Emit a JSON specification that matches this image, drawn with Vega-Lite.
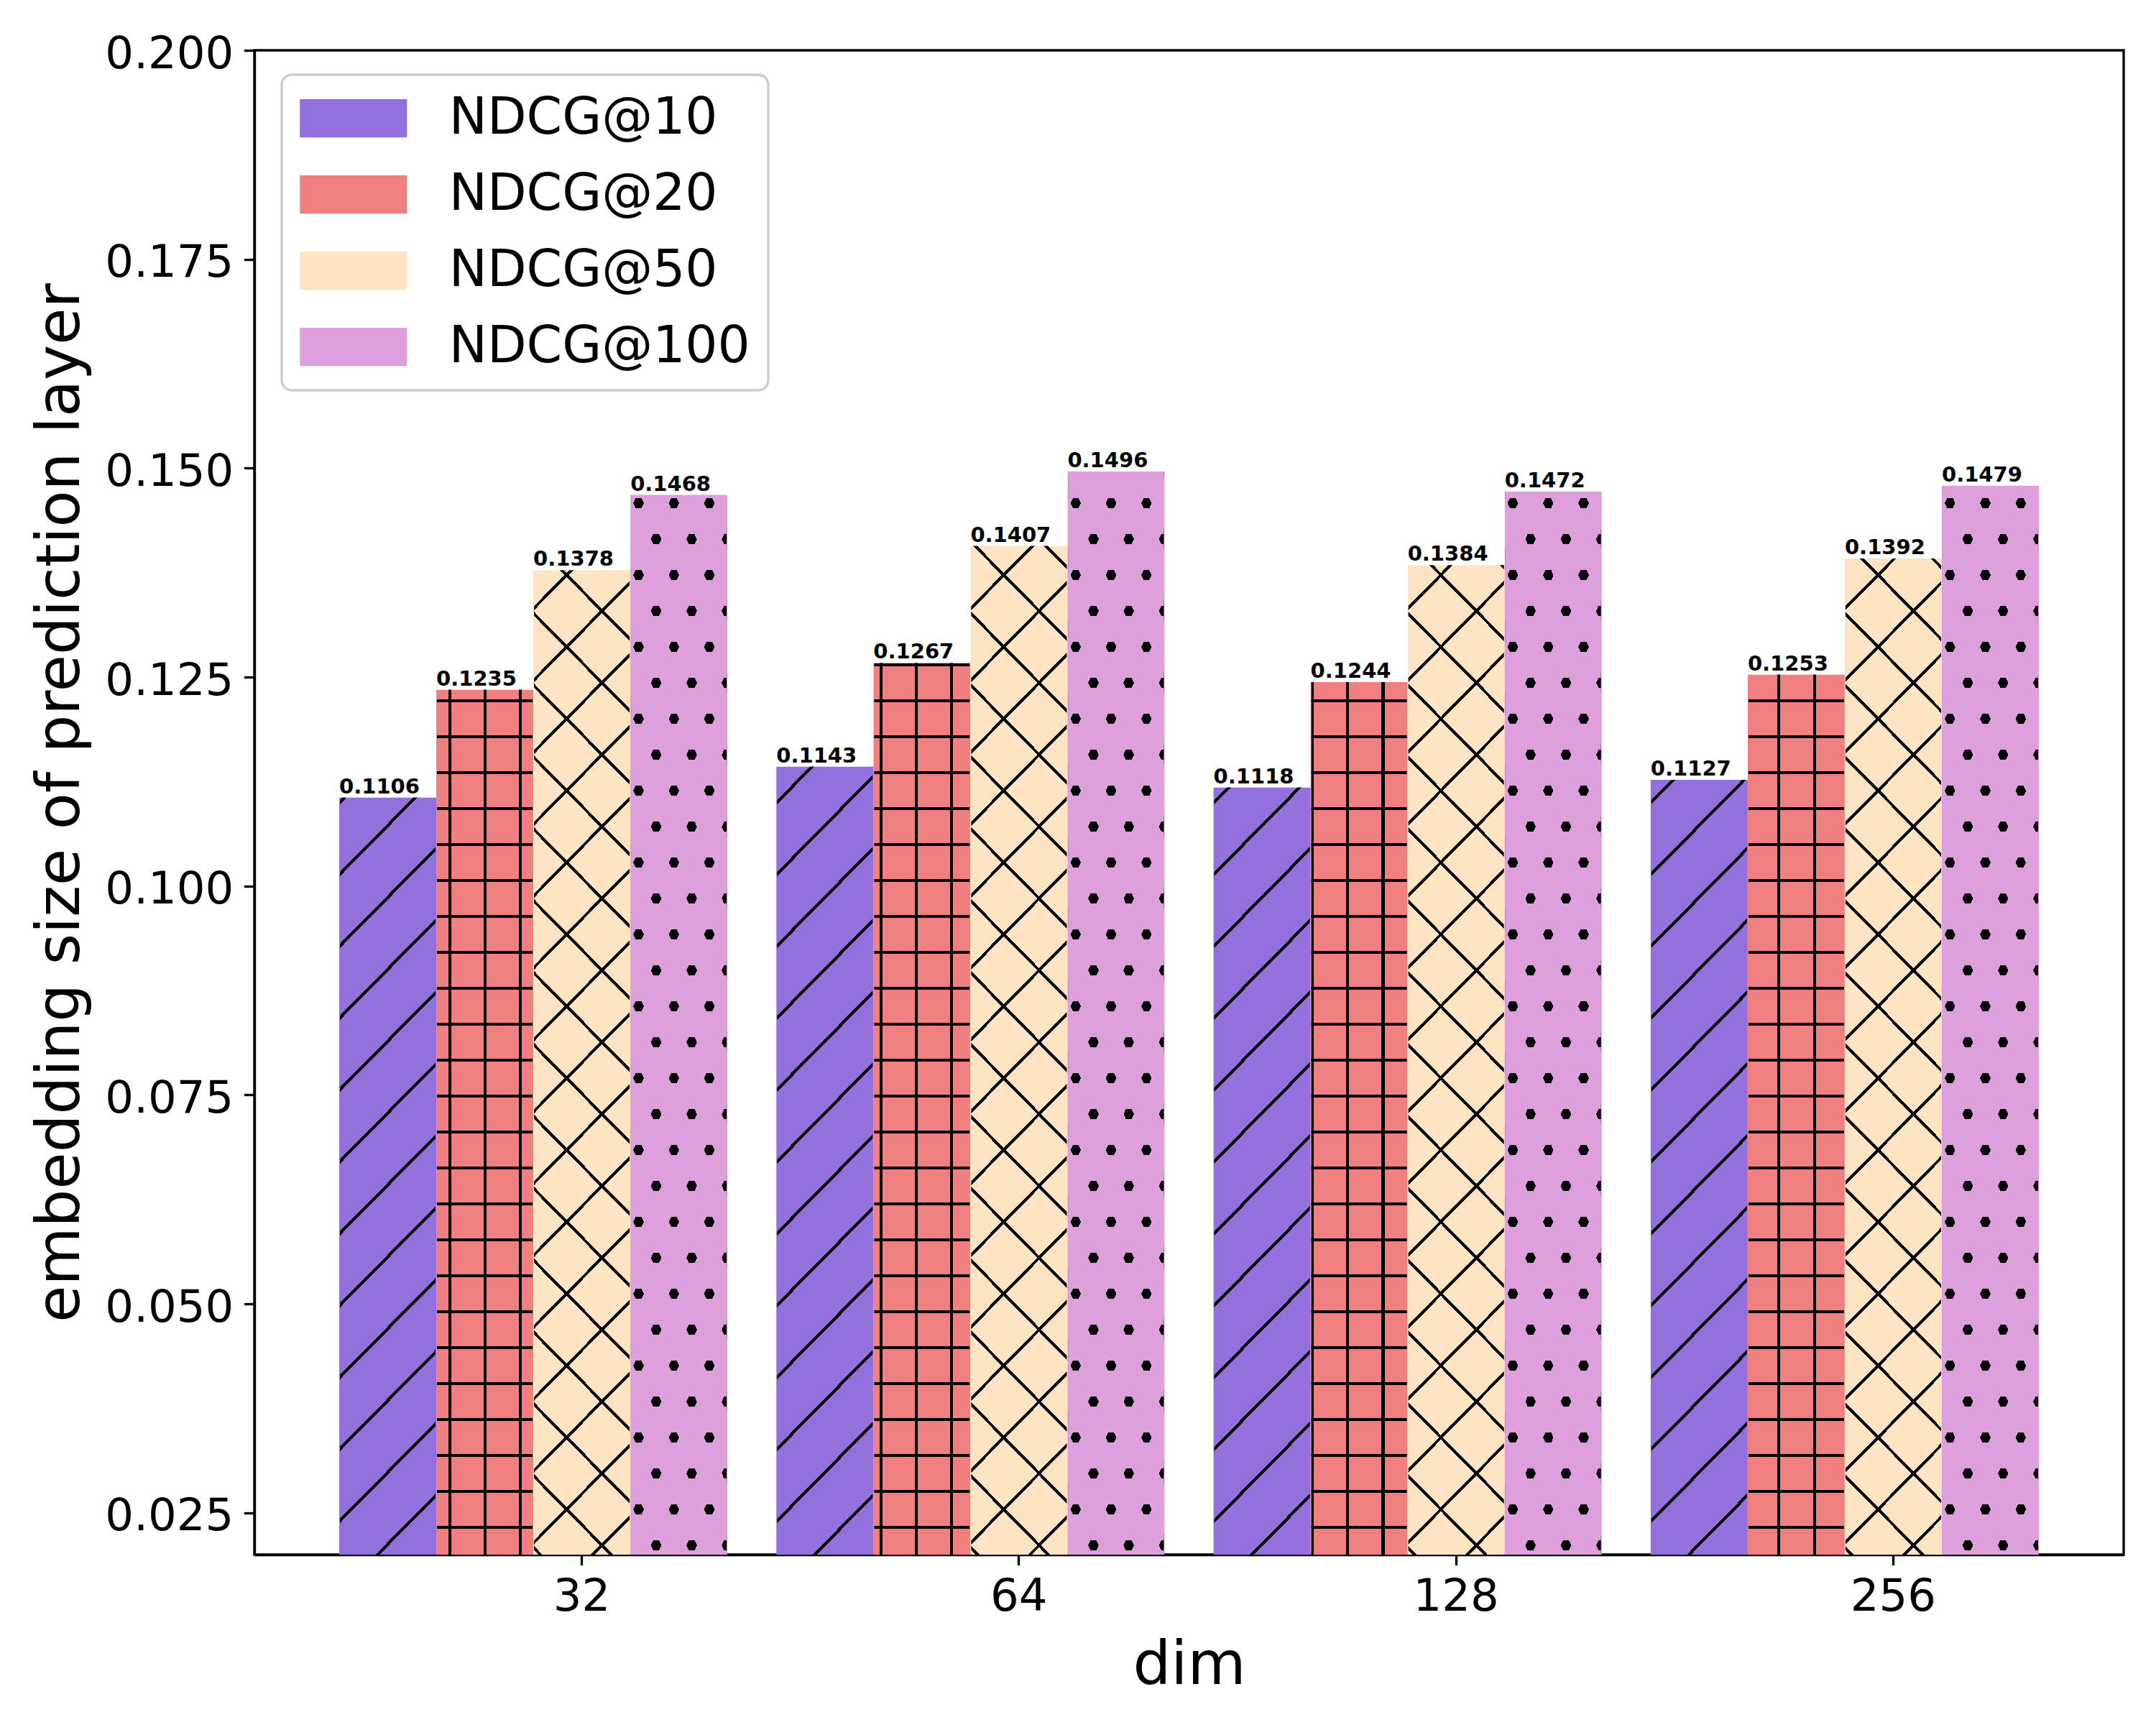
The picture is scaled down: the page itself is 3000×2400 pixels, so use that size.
{
"$schema":"https://vega.github.io/schema/vega-lite/v6.json",
"width":2601,"height":2093,
"autosize":{"type":"none"},
"padding":{"left":354,"top":70,"right":45,"bottom":237},
"background":"white",
"config":{
"font":"DejaVu Sans",
"view":{"stroke":"black","strokeWidth":3.33},
"legend":{"strokeWidth":3.33},
"axis":{"labelFont":"DejaVu Sans","labelFontSize":62.5,"labelColor":"black","titleFont":"DejaVu Sans","titleFontSize":83.3,"titleFontWeight":"normal","titleColor":"black","tickColor":"black","tickWidth":3.33,"tickSize":14.6,"domainColor":"black","domainWidth":3.33,"grid":false,"zindex":1}
},
"data":{"values":[
{"dim":"32","series":"NDCG@10","value":0.1106},{"dim":"32","series":"NDCG@20","value":0.1235},{"dim":"32","series":"NDCG@50","value":0.1378},{"dim":"32","series":"NDCG@100","value":0.1468},
{"dim":"64","series":"NDCG@10","value":0.1143},{"dim":"64","series":"NDCG@20","value":0.1267},{"dim":"64","series":"NDCG@50","value":0.1407},{"dim":"64","series":"NDCG@100","value":0.1496},
{"dim":"128","series":"NDCG@10","value":0.1118},{"dim":"128","series":"NDCG@20","value":0.1244},{"dim":"128","series":"NDCG@50","value":0.1384},{"dim":"128","series":"NDCG@100","value":0.1472},
{"dim":"256","series":"NDCG@10","value":0.1127},{"dim":"256","series":"NDCG@20","value":0.1253},{"dim":"256","series":"NDCG@50","value":0.1392},{"dim":"256","series":"NDCG@100","value":0.1479}
]},
"encoding":{
"x":{"field":"dim","type":"nominal","scale":{"type":"band","domain":["32","64","128","256"],"paddingInner":0.112,"paddingOuter":0.194},"axis":{"title":"dim","labelAngle":0,"bandPosition":0.625,"labelOffset":67.5,"labelPadding":13.4,"titleY":179,"titleBaseline":"alphabetic"}},
"xOffset":{"field":"series","type":"nominal","scale":{"domain":["NDCG@10","NDCG@20","NDCG@50","NDCG@100"],"paddingInner":0,"paddingOuter":0}}
},
"layer":[
{"mark":{"type":"bar"},
"encoding":{
"y":{"field":"value","type":"quantitative","scale":{"domain":[0.02,0.2],"zero":false,"nice":false},"axis":{"title":"embedding size of prediction layer","values":[0.025,0.05,0.075,0.1,0.125,0.15,0.175,0.2],"format":".3f","labelPadding":14.6,"labelOffset":5,"titleX":-245,"titleBaseline":"alphabetic"}},
"y2":{"datum":0.02},
"fill":{"field":"series","type":"nominal","scale":{"domain":["NDCG@10","NDCG@20","NDCG@50","NDCG@100"],"range":["#9370db","#f08080","#ffe4c4","#dda0dd"]},
"legend":{"title":null,"orient":"none","legendX":38,"legendY":34,"padding":25,"strokeColor":"#cccccc","cornerRadius":14,"fillColor":"white","labelFont":"DejaVu Sans","labelFontSize":71,"labelColor":"black","labelLimit":1000,"symbolType":"M-2.1,-0.75H2.1V0.75H-2.1Z","symbolSize":5041,"symbolOffset":39.3,"labelOffset":97.5,"rowPadding":34,"symbolStrokeWidth":0,"symbolOpacity":1}}
}},
{"transform":[{"filter":"datum.series==='NDCG@10'"}],
"mark":{"type":"bar","width":133,"fill":{"gradient":"linear","x1":0,"y1":0,"x2":0.09683,"y2":1.08091,"stops":[
{"offset":0.0347,"color":"#0000"},{"offset":0.0347,"color":"#000"},{"offset":0.0384,"color":"#000"},{"offset":0.0384,"color":"#0000"},
{"offset":0.0956,"color":"#0000"},{"offset":0.0956,"color":"#000"},{"offset":0.0993,"color":"#000"},{"offset":0.0993,"color":"#0000"},
{"offset":0.1565,"color":"#0000"},{"offset":0.1565,"color":"#000"},{"offset":0.1602,"color":"#000"},{"offset":0.1602,"color":"#0000"},
{"offset":0.2174,"color":"#0000"},{"offset":0.2174,"color":"#000"},{"offset":0.2211,"color":"#000"},{"offset":0.2211,"color":"#0000"},
{"offset":0.2783,"color":"#0000"},{"offset":0.2783,"color":"#000"},{"offset":0.2820,"color":"#000"},{"offset":0.2820,"color":"#0000"},
{"offset":0.3392,"color":"#0000"},{"offset":0.3392,"color":"#000"},{"offset":0.3429,"color":"#000"},{"offset":0.3429,"color":"#0000"},
{"offset":0.4001,"color":"#0000"},{"offset":0.4001,"color":"#000"},{"offset":0.4038,"color":"#000"},{"offset":0.4038,"color":"#0000"},
{"offset":0.4610,"color":"#0000"},{"offset":0.4610,"color":"#000"},{"offset":0.4647,"color":"#000"},{"offset":0.4647,"color":"#0000"},
{"offset":0.5219,"color":"#0000"},{"offset":0.5219,"color":"#000"},{"offset":0.5256,"color":"#000"},{"offset":0.5256,"color":"#0000"},
{"offset":0.5828,"color":"#0000"},{"offset":0.5828,"color":"#000"},{"offset":0.5865,"color":"#000"},{"offset":0.5865,"color":"#0000"},
{"offset":0.6437,"color":"#0000"},{"offset":0.6437,"color":"#000"},{"offset":0.6474,"color":"#000"},{"offset":0.6474,"color":"#0000"},
{"offset":0.7046,"color":"#0000"},{"offset":0.7046,"color":"#000"},{"offset":0.7083,"color":"#000"},{"offset":0.7083,"color":"#0000"},
{"offset":0.7655,"color":"#0000"},{"offset":0.7655,"color":"#000"},{"offset":0.7692,"color":"#000"},{"offset":0.7692,"color":"#0000"},
{"offset":0.8264,"color":"#0000"},{"offset":0.8264,"color":"#000"},{"offset":0.8301,"color":"#000"},{"offset":0.8301,"color":"#0000"},
{"offset":0.8873,"color":"#0000"},{"offset":0.8873,"color":"#000"},{"offset":0.8910,"color":"#000"},{"offset":0.8910,"color":"#0000"},
{"offset":0.9482,"color":"#0000"},{"offset":0.9482,"color":"#000"},{"offset":0.9519,"color":"#000"},{"offset":0.9519,"color":"#0000"}
]}},
"encoding":{"y":{"datum":0.1496,"type":"quantitative","axis":{"title":"embedding size of prediction layer"}},"y2":{"datum":0.02}}},
{"transform":[{"filter":"datum.series==='NDCG@20'"}],
"mark":{"type":"bar","width":133,"fill":{"gradient":"linear","x1":0,"y1":0,"x2":0,"y2":1,"stops":[
{"offset":0.0112,"color":"#0000"},{"offset":0.0112,"color":"#000"},{"offset":0.0140,"color":"#000"},{"offset":0.0140,"color":"#0000"},
{"offset":0.0444,"color":"#0000"},{"offset":0.0444,"color":"#000"},{"offset":0.0472,"color":"#000"},{"offset":0.0472,"color":"#0000"},
{"offset":0.0776,"color":"#0000"},{"offset":0.0776,"color":"#000"},{"offset":0.0804,"color":"#000"},{"offset":0.0804,"color":"#0000"},
{"offset":0.1108,"color":"#0000"},{"offset":0.1108,"color":"#000"},{"offset":0.1135,"color":"#000"},{"offset":0.1135,"color":"#0000"},
{"offset":0.1439,"color":"#0000"},{"offset":0.1439,"color":"#000"},{"offset":0.1467,"color":"#000"},{"offset":0.1467,"color":"#0000"},
{"offset":0.1771,"color":"#0000"},{"offset":0.1771,"color":"#000"},{"offset":0.1799,"color":"#000"},{"offset":0.1799,"color":"#0000"},
{"offset":0.2103,"color":"#0000"},{"offset":0.2103,"color":"#000"},{"offset":0.2131,"color":"#000"},{"offset":0.2131,"color":"#0000"},
{"offset":0.2435,"color":"#0000"},{"offset":0.2435,"color":"#000"},{"offset":0.2463,"color":"#000"},{"offset":0.2463,"color":"#0000"},
{"offset":0.2766,"color":"#0000"},{"offset":0.2766,"color":"#000"},{"offset":0.2794,"color":"#000"},{"offset":0.2794,"color":"#0000"},
{"offset":0.3098,"color":"#0000"},{"offset":0.3098,"color":"#000"},{"offset":0.3126,"color":"#000"},{"offset":0.3126,"color":"#0000"},
{"offset":0.3430,"color":"#0000"},{"offset":0.3430,"color":"#000"},{"offset":0.3458,"color":"#000"},{"offset":0.3458,"color":"#0000"},
{"offset":0.3762,"color":"#0000"},{"offset":0.3762,"color":"#000"},{"offset":0.3790,"color":"#000"},{"offset":0.3790,"color":"#0000"},
{"offset":0.4094,"color":"#0000"},{"offset":0.4094,"color":"#000"},{"offset":0.4121,"color":"#000"},{"offset":0.4121,"color":"#0000"},
{"offset":0.4425,"color":"#0000"},{"offset":0.4425,"color":"#000"},{"offset":0.4453,"color":"#000"},{"offset":0.4453,"color":"#0000"},
{"offset":0.4757,"color":"#0000"},{"offset":0.4757,"color":"#000"},{"offset":0.4785,"color":"#000"},{"offset":0.4785,"color":"#0000"},
{"offset":0.5089,"color":"#0000"},{"offset":0.5089,"color":"#000"},{"offset":0.5117,"color":"#000"},{"offset":0.5117,"color":"#0000"},
{"offset":0.5421,"color":"#0000"},{"offset":0.5421,"color":"#000"},{"offset":0.5449,"color":"#000"},{"offset":0.5449,"color":"#0000"},
{"offset":0.5753,"color":"#0000"},{"offset":0.5753,"color":"#000"},{"offset":0.5780,"color":"#000"},{"offset":0.5780,"color":"#0000"},
{"offset":0.6084,"color":"#0000"},{"offset":0.6084,"color":"#000"},{"offset":0.6112,"color":"#000"},{"offset":0.6112,"color":"#0000"},
{"offset":0.6416,"color":"#0000"},{"offset":0.6416,"color":"#000"},{"offset":0.6444,"color":"#000"},{"offset":0.6444,"color":"#0000"},
{"offset":0.6748,"color":"#0000"},{"offset":0.6748,"color":"#000"},{"offset":0.6776,"color":"#000"},{"offset":0.6776,"color":"#0000"},
{"offset":0.7080,"color":"#0000"},{"offset":0.7080,"color":"#000"},{"offset":0.7108,"color":"#000"},{"offset":0.7108,"color":"#0000"},
{"offset":0.7412,"color":"#0000"},{"offset":0.7412,"color":"#000"},{"offset":0.7439,"color":"#000"},{"offset":0.7439,"color":"#0000"},
{"offset":0.7743,"color":"#0000"},{"offset":0.7743,"color":"#000"},{"offset":0.7771,"color":"#000"},{"offset":0.7771,"color":"#0000"},
{"offset":0.8075,"color":"#0000"},{"offset":0.8075,"color":"#000"},{"offset":0.8103,"color":"#000"},{"offset":0.8103,"color":"#0000"},
{"offset":0.8407,"color":"#0000"},{"offset":0.8407,"color":"#000"},{"offset":0.8435,"color":"#000"},{"offset":0.8435,"color":"#0000"},
{"offset":0.8739,"color":"#0000"},{"offset":0.8739,"color":"#000"},{"offset":0.8767,"color":"#000"},{"offset":0.8767,"color":"#0000"},
{"offset":0.9070,"color":"#0000"},{"offset":0.9070,"color":"#000"},{"offset":0.9098,"color":"#000"},{"offset":0.9098,"color":"#0000"},
{"offset":0.9402,"color":"#0000"},{"offset":0.9402,"color":"#000"},{"offset":0.9430,"color":"#000"},{"offset":0.9430,"color":"#0000"},
{"offset":0.9734,"color":"#0000"},{"offset":0.9734,"color":"#000"},{"offset":0.9762,"color":"#000"},{"offset":0.9762,"color":"#0000"}
]}},
"encoding":{"y":{"datum":0.1496,"type":"quantitative","axis":{"title":"embedding size of prediction layer"}},"y2":{"datum":0.02}}},
{"transform":[{"filter":"datum.series==='NDCG@20'"}],
"mark":{"type":"bar","width":133},
"encoding":{"y":{"datum":0.1496,"type":"quantitative","axis":{"title":"embedding size of prediction layer"}},"y2":{"datum":0.02},
"fill":{"condition":[
{"test":"datum.dim==='32'","value":{"gradient":"linear","x1":0,"y1":0,"x2":1,"y2":0,"stops":[
{"offset":0.1178,"color":"#0000"},{"offset":0.1178,"color":"#000"},{"offset":0.1489,"color":"#000"},{"offset":0.1489,"color":"#0000"},
{"offset":0.4881,"color":"#0000"},{"offset":0.4881,"color":"#000"},{"offset":0.5193,"color":"#000"},{"offset":0.5193,"color":"#0000"},
{"offset":0.8585,"color":"#0000"},{"offset":0.8585,"color":"#000"},{"offset":0.8896,"color":"#000"},{"offset":0.8896,"color":"#0000"}]}},
{"test":"datum.dim==='64'","value":{"gradient":"linear","x1":0,"y1":0,"x2":1,"y2":0,"stops":[
{"offset":0.0563,"color":"#0000"},{"offset":0.0563,"color":"#000"},{"offset":0.0874,"color":"#000"},{"offset":0.0874,"color":"#0000"},
{"offset":0.4267,"color":"#0000"},{"offset":0.4267,"color":"#000"},{"offset":0.4578,"color":"#000"},{"offset":0.4578,"color":"#0000"},
{"offset":0.7970,"color":"#0000"},{"offset":0.7970,"color":"#000"},{"offset":0.8282,"color":"#000"},{"offset":0.8282,"color":"#0000"}]}},
{"test":"datum.dim==='128'","value":{"gradient":"linear","x1":0,"y1":0,"x2":1,"y2":0,"stops":[
{"offset":0,"color":"#000"},{"offset":0.0259,"color":"#000"},{"offset":0.0259,"color":"#0000"},
{"offset":0.3652,"color":"#0000"},{"offset":0.3652,"color":"#000"},{"offset":0.3963,"color":"#000"},{"offset":0.3963,"color":"#0000"},
{"offset":0.7356,"color":"#0000"},{"offset":0.7356,"color":"#000"},{"offset":0.7667,"color":"#000"},{"offset":0.7667,"color":"#0000"}]}}
],
"value":{"gradient":"linear","x1":0,"y1":0,"x2":1,"y2":0,"stops":[
{"offset":0.3037,"color":"#0000"},{"offset":0.3037,"color":"#000"},{"offset":0.3348,"color":"#000"},{"offset":0.3348,"color":"#0000"},
{"offset":0.6741,"color":"#0000"},{"offset":0.6741,"color":"#000"},{"offset":0.7052,"color":"#000"},{"offset":0.7052,"color":"#0000"}]}}
}},
{"transform":[{"filter":"datum.series==='NDCG@50'"}],
"mark":{"type":"bar","width":133,"fill":{"gradient":"linear","x1":0,"y1":0,"x2":0.09683,"y2":1.08091,"stops":[
{"offset":0.0530,"color":"#0000"},{"offset":0.0530,"color":"#000"},{"offset":0.0566,"color":"#000"},{"offset":0.0566,"color":"#0000"},
{"offset":0.1139,"color":"#0000"},{"offset":0.1139,"color":"#000"},{"offset":0.1175,"color":"#000"},{"offset":0.1175,"color":"#0000"},
{"offset":0.1748,"color":"#0000"},{"offset":0.1748,"color":"#000"},{"offset":0.1784,"color":"#000"},{"offset":0.1784,"color":"#0000"},
{"offset":0.2357,"color":"#0000"},{"offset":0.2357,"color":"#000"},{"offset":0.2393,"color":"#000"},{"offset":0.2393,"color":"#0000"},
{"offset":0.2966,"color":"#0000"},{"offset":0.2966,"color":"#000"},{"offset":0.3002,"color":"#000"},{"offset":0.3002,"color":"#0000"},
{"offset":0.3575,"color":"#0000"},{"offset":0.3575,"color":"#000"},{"offset":0.3611,"color":"#000"},{"offset":0.3611,"color":"#0000"},
{"offset":0.4184,"color":"#0000"},{"offset":0.4184,"color":"#000"},{"offset":0.4220,"color":"#000"},{"offset":0.4220,"color":"#0000"},
{"offset":0.4793,"color":"#0000"},{"offset":0.4793,"color":"#000"},{"offset":0.4829,"color":"#000"},{"offset":0.4829,"color":"#0000"},
{"offset":0.5402,"color":"#0000"},{"offset":0.5402,"color":"#000"},{"offset":0.5438,"color":"#000"},{"offset":0.5438,"color":"#0000"},
{"offset":0.6011,"color":"#0000"},{"offset":0.6011,"color":"#000"},{"offset":0.6047,"color":"#000"},{"offset":0.6047,"color":"#0000"},
{"offset":0.6620,"color":"#0000"},{"offset":0.6620,"color":"#000"},{"offset":0.6656,"color":"#000"},{"offset":0.6656,"color":"#0000"},
{"offset":0.7229,"color":"#0000"},{"offset":0.7229,"color":"#000"},{"offset":0.7265,"color":"#000"},{"offset":0.7265,"color":"#0000"},
{"offset":0.7838,"color":"#0000"},{"offset":0.7838,"color":"#000"},{"offset":0.7874,"color":"#000"},{"offset":0.7874,"color":"#0000"},
{"offset":0.8447,"color":"#0000"},{"offset":0.8447,"color":"#000"},{"offset":0.8483,"color":"#000"},{"offset":0.8483,"color":"#0000"},
{"offset":0.9056,"color":"#0000"},{"offset":0.9056,"color":"#000"},{"offset":0.9092,"color":"#000"},{"offset":0.9092,"color":"#0000"},
{"offset":0.9665,"color":"#0000"},{"offset":0.9665,"color":"#000"},{"offset":0.9701,"color":"#000"},{"offset":0.9701,"color":"#0000"}
]}},
"encoding":{"y":{"datum":0.1496,"type":"quantitative","axis":{"title":"embedding size of prediction layer"}},"y2":{"datum":0.02}}},
{"transform":[{"filter":"datum.series==='NDCG@50'"}],
"mark":{"type":"bar","width":133,"fill":{"gradient":"linear","x1":0,"y1":1,"x2":0.09683,"y2":-0.08091,"stops":[
{"offset":0.0037,"color":"#0000"},{"offset":0.0037,"color":"#000"},{"offset":0.0073,"color":"#000"},{"offset":0.0073,"color":"#0000"},
{"offset":0.0646,"color":"#0000"},{"offset":0.0646,"color":"#000"},{"offset":0.0682,"color":"#000"},{"offset":0.0682,"color":"#0000"},
{"offset":0.1255,"color":"#0000"},{"offset":0.1255,"color":"#000"},{"offset":0.1291,"color":"#000"},{"offset":0.1291,"color":"#0000"},
{"offset":0.1864,"color":"#0000"},{"offset":0.1864,"color":"#000"},{"offset":0.1900,"color":"#000"},{"offset":0.1900,"color":"#0000"},
{"offset":0.2473,"color":"#0000"},{"offset":0.2473,"color":"#000"},{"offset":0.2509,"color":"#000"},{"offset":0.2509,"color":"#0000"},
{"offset":0.3082,"color":"#0000"},{"offset":0.3082,"color":"#000"},{"offset":0.3118,"color":"#000"},{"offset":0.3118,"color":"#0000"},
{"offset":0.3691,"color":"#0000"},{"offset":0.3691,"color":"#000"},{"offset":0.3727,"color":"#000"},{"offset":0.3727,"color":"#0000"},
{"offset":0.4300,"color":"#0000"},{"offset":0.4300,"color":"#000"},{"offset":0.4336,"color":"#000"},{"offset":0.4336,"color":"#0000"},
{"offset":0.4909,"color":"#0000"},{"offset":0.4909,"color":"#000"},{"offset":0.4945,"color":"#000"},{"offset":0.4945,"color":"#0000"},
{"offset":0.5518,"color":"#0000"},{"offset":0.5518,"color":"#000"},{"offset":0.5554,"color":"#000"},{"offset":0.5554,"color":"#0000"},
{"offset":0.6127,"color":"#0000"},{"offset":0.6127,"color":"#000"},{"offset":0.6163,"color":"#000"},{"offset":0.6163,"color":"#0000"},
{"offset":0.6736,"color":"#0000"},{"offset":0.6736,"color":"#000"},{"offset":0.6772,"color":"#000"},{"offset":0.6772,"color":"#0000"},
{"offset":0.7345,"color":"#0000"},{"offset":0.7345,"color":"#000"},{"offset":0.7381,"color":"#000"},{"offset":0.7381,"color":"#0000"},
{"offset":0.7954,"color":"#0000"},{"offset":0.7954,"color":"#000"},{"offset":0.7990,"color":"#000"},{"offset":0.7990,"color":"#0000"},
{"offset":0.8563,"color":"#0000"},{"offset":0.8563,"color":"#000"},{"offset":0.8599,"color":"#000"},{"offset":0.8599,"color":"#0000"},
{"offset":0.9172,"color":"#0000"},{"offset":0.9172,"color":"#000"},{"offset":0.9208,"color":"#000"},{"offset":0.9208,"color":"#0000"},
{"offset":0.9781,"color":"#0000"},{"offset":0.9781,"color":"#000"},{"offset":0.9817,"color":"#000"},{"offset":0.9817,"color":"#0000"}
]}},
"encoding":{"y":{"datum":0.1496,"type":"quantitative","axis":{"title":"embedding size of prediction layer"}},"y2":{"datum":0.02}}},
{"transform":[{"filter":"datum.series==='NDCG@100'"}],
"mark":{"type":"bar","width":133,"fill":{"gradient":"linear","x1":0,"y1":1,"x2":0.204692,"y2":-0.142487,"stops":[
{"offset":0.0388,"color":"#0000"},{"offset":0.0388,"color":"#000"},{"offset":0.0557,"color":"#000"},{"offset":0.0557,"color":"#0000"},
{"offset":0.0951,"color":"#0000"},{"offset":0.0951,"color":"#000"},{"offset":0.1120,"color":"#000"},{"offset":0.1120,"color":"#0000"},
{"offset":0.1514,"color":"#0000"},{"offset":0.1514,"color":"#000"},{"offset":0.1683,"color":"#000"},{"offset":0.1683,"color":"#0000"},
{"offset":0.2077,"color":"#0000"},{"offset":0.2077,"color":"#000"},{"offset":0.2245,"color":"#000"},{"offset":0.2245,"color":"#0000"},
{"offset":0.2639,"color":"#0000"},{"offset":0.2639,"color":"#000"},{"offset":0.2808,"color":"#000"},{"offset":0.2808,"color":"#0000"},
{"offset":0.3202,"color":"#0000"},{"offset":0.3202,"color":"#000"},{"offset":0.3371,"color":"#000"},{"offset":0.3371,"color":"#0000"},
{"offset":0.3765,"color":"#0000"},{"offset":0.3765,"color":"#000"},{"offset":0.3934,"color":"#000"},{"offset":0.3934,"color":"#0000"},
{"offset":0.4328,"color":"#0000"},{"offset":0.4328,"color":"#000"},{"offset":0.4496,"color":"#000"},{"offset":0.4496,"color":"#0000"},
{"offset":0.4890,"color":"#0000"},{"offset":0.4890,"color":"#000"},{"offset":0.5059,"color":"#000"},{"offset":0.5059,"color":"#0000"},
{"offset":0.5453,"color":"#0000"},{"offset":0.5453,"color":"#000"},{"offset":0.5622,"color":"#000"},{"offset":0.5622,"color":"#0000"},
{"offset":0.6016,"color":"#0000"},{"offset":0.6016,"color":"#000"},{"offset":0.6185,"color":"#000"},{"offset":0.6185,"color":"#0000"},
{"offset":0.6579,"color":"#0000"},{"offset":0.6579,"color":"#000"},{"offset":0.6747,"color":"#000"},{"offset":0.6747,"color":"#0000"},
{"offset":0.7141,"color":"#0000"},{"offset":0.7141,"color":"#000"},{"offset":0.7310,"color":"#000"},{"offset":0.7310,"color":"#0000"},
{"offset":0.7704,"color":"#0000"},{"offset":0.7704,"color":"#000"},{"offset":0.7873,"color":"#000"},{"offset":0.7873,"color":"#0000"},
{"offset":0.8267,"color":"#0000"},{"offset":0.8267,"color":"#000"},{"offset":0.8436,"color":"#000"},{"offset":0.8436,"color":"#0000"},
{"offset":0.8829,"color":"#0000"},{"offset":0.8829,"color":"#000"},{"offset":0.8998,"color":"#000"},{"offset":0.8998,"color":"#0000"},
{"offset":0.9392,"color":"#0000"},{"offset":0.9392,"color":"#000"},{"offset":0.9561,"color":"#000"},{"offset":0.9561,"color":"#0000"},
{"offset":0.9955,"color":"#0000"},{"offset":0.9955,"color":"#000"}
]}},
"encoding":{"y":{"datum":0.1496,"type":"quantitative","axis":{"title":"embedding size of prediction layer"}},"y2":{"datum":0.02}}},
{"transform":[{"filter":"datum.series==='NDCG@100'"}],
"mark":{"type":"bar","width":133,"fill":{"gradient":"linear","x1":0,"y1":0,"x2":0.204692,"y2":1.142487,"stops":[
{"offset":0.0281,"color":"#dda0dd"},{"offset":0.0281,"color":"#0000"},{"offset":0.0450,"color":"#0000"},{"offset":0.0450,"color":"#dda0dd"},
{"offset":0.0844,"color":"#dda0dd"},{"offset":0.0844,"color":"#0000"},{"offset":0.1013,"color":"#0000"},{"offset":0.1013,"color":"#dda0dd"},
{"offset":0.1407,"color":"#dda0dd"},{"offset":0.1407,"color":"#0000"},{"offset":0.1576,"color":"#0000"},{"offset":0.1576,"color":"#dda0dd"},
{"offset":0.1970,"color":"#dda0dd"},{"offset":0.1970,"color":"#0000"},{"offset":0.2138,"color":"#0000"},{"offset":0.2138,"color":"#dda0dd"},
{"offset":0.2532,"color":"#dda0dd"},{"offset":0.2532,"color":"#0000"},{"offset":0.2701,"color":"#0000"},{"offset":0.2701,"color":"#dda0dd"},
{"offset":0.3095,"color":"#dda0dd"},{"offset":0.3095,"color":"#0000"},{"offset":0.3264,"color":"#0000"},{"offset":0.3264,"color":"#dda0dd"},
{"offset":0.3658,"color":"#dda0dd"},{"offset":0.3658,"color":"#0000"},{"offset":0.3827,"color":"#0000"},{"offset":0.3827,"color":"#dda0dd"},
{"offset":0.4221,"color":"#dda0dd"},{"offset":0.4221,"color":"#0000"},{"offset":0.4389,"color":"#0000"},{"offset":0.4389,"color":"#dda0dd"},
{"offset":0.4783,"color":"#dda0dd"},{"offset":0.4783,"color":"#0000"},{"offset":0.4952,"color":"#0000"},{"offset":0.4952,"color":"#dda0dd"},
{"offset":0.5346,"color":"#dda0dd"},{"offset":0.5346,"color":"#0000"},{"offset":0.5515,"color":"#0000"},{"offset":0.5515,"color":"#dda0dd"},
{"offset":0.5909,"color":"#dda0dd"},{"offset":0.5909,"color":"#0000"},{"offset":0.6078,"color":"#0000"},{"offset":0.6078,"color":"#dda0dd"},
{"offset":0.6472,"color":"#dda0dd"},{"offset":0.6472,"color":"#0000"},{"offset":0.6640,"color":"#0000"},{"offset":0.6640,"color":"#dda0dd"},
{"offset":0.7034,"color":"#dda0dd"},{"offset":0.7034,"color":"#0000"},{"offset":0.7203,"color":"#0000"},{"offset":0.7203,"color":"#dda0dd"},
{"offset":0.7597,"color":"#dda0dd"},{"offset":0.7597,"color":"#0000"},{"offset":0.7766,"color":"#0000"},{"offset":0.7766,"color":"#dda0dd"},
{"offset":0.8160,"color":"#dda0dd"},{"offset":0.8160,"color":"#0000"},{"offset":0.8329,"color":"#0000"},{"offset":0.8329,"color":"#dda0dd"},
{"offset":0.8723,"color":"#dda0dd"},{"offset":0.8723,"color":"#0000"},{"offset":0.8891,"color":"#0000"},{"offset":0.8891,"color":"#dda0dd"},
{"offset":0.9285,"color":"#dda0dd"},{"offset":0.9285,"color":"#0000"},{"offset":0.9454,"color":"#0000"},{"offset":0.9454,"color":"#dda0dd"},
{"offset":0.9848,"color":"#dda0dd"},{"offset":0.9848,"color":"#0000"}
]}},
"encoding":{"y":{"datum":0.1496,"type":"quantitative","axis":{"title":"embedding size of prediction layer"}},"y2":{"datum":0.02}}},
{"transform":[{"filter":"datum.series==='NDCG@100'"}],
"mark":{"type":"bar","width":133,"fill":{"gradient":"linear","x1":0,"y1":0,"x2":0,"y2":1,"stops":[
{"offset":0.0246,"color":"#dda0dd"},{"offset":0.0246,"color":"#0000"},{"offset":0.0338,"color":"#0000"},{"offset":0.0338,"color":"#dda0dd"},
{"offset":0.0577,"color":"#dda0dd"},{"offset":0.0577,"color":"#0000"},{"offset":0.0670,"color":"#0000"},{"offset":0.0670,"color":"#dda0dd"},
{"offset":0.0909,"color":"#dda0dd"},{"offset":0.0909,"color":"#0000"},{"offset":0.1002,"color":"#0000"},{"offset":0.1002,"color":"#dda0dd"},
{"offset":0.1241,"color":"#dda0dd"},{"offset":0.1241,"color":"#0000"},{"offset":0.1334,"color":"#0000"},{"offset":0.1334,"color":"#dda0dd"},
{"offset":0.1573,"color":"#dda0dd"},{"offset":0.1573,"color":"#0000"},{"offset":0.1666,"color":"#0000"},{"offset":0.1666,"color":"#dda0dd"},
{"offset":0.1904,"color":"#dda0dd"},{"offset":0.1904,"color":"#0000"},{"offset":0.1997,"color":"#0000"},{"offset":0.1997,"color":"#dda0dd"},
{"offset":0.2236,"color":"#dda0dd"},{"offset":0.2236,"color":"#0000"},{"offset":0.2329,"color":"#0000"},{"offset":0.2329,"color":"#dda0dd"},
{"offset":0.2568,"color":"#dda0dd"},{"offset":0.2568,"color":"#0000"},{"offset":0.2661,"color":"#0000"},{"offset":0.2661,"color":"#dda0dd"},
{"offset":0.2900,"color":"#dda0dd"},{"offset":0.2900,"color":"#0000"},{"offset":0.2993,"color":"#0000"},{"offset":0.2993,"color":"#dda0dd"},
{"offset":0.3232,"color":"#dda0dd"},{"offset":0.3232,"color":"#0000"},{"offset":0.3325,"color":"#0000"},{"offset":0.3325,"color":"#dda0dd"},
{"offset":0.3563,"color":"#dda0dd"},{"offset":0.3563,"color":"#0000"},{"offset":0.3656,"color":"#0000"},{"offset":0.3656,"color":"#dda0dd"},
{"offset":0.3895,"color":"#dda0dd"},{"offset":0.3895,"color":"#0000"},{"offset":0.3988,"color":"#0000"},{"offset":0.3988,"color":"#dda0dd"},
{"offset":0.4227,"color":"#dda0dd"},{"offset":0.4227,"color":"#0000"},{"offset":0.4320,"color":"#0000"},{"offset":0.4320,"color":"#dda0dd"},
{"offset":0.4559,"color":"#dda0dd"},{"offset":0.4559,"color":"#0000"},{"offset":0.4652,"color":"#0000"},{"offset":0.4652,"color":"#dda0dd"},
{"offset":0.4891,"color":"#dda0dd"},{"offset":0.4891,"color":"#0000"},{"offset":0.4983,"color":"#0000"},{"offset":0.4983,"color":"#dda0dd"},
{"offset":0.5222,"color":"#dda0dd"},{"offset":0.5222,"color":"#0000"},{"offset":0.5315,"color":"#0000"},{"offset":0.5315,"color":"#dda0dd"},
{"offset":0.5554,"color":"#dda0dd"},{"offset":0.5554,"color":"#0000"},{"offset":0.5647,"color":"#0000"},{"offset":0.5647,"color":"#dda0dd"},
{"offset":0.5886,"color":"#dda0dd"},{"offset":0.5886,"color":"#0000"},{"offset":0.5979,"color":"#0000"},{"offset":0.5979,"color":"#dda0dd"},
{"offset":0.6218,"color":"#dda0dd"},{"offset":0.6218,"color":"#0000"},{"offset":0.6311,"color":"#0000"},{"offset":0.6311,"color":"#dda0dd"},
{"offset":0.6550,"color":"#dda0dd"},{"offset":0.6550,"color":"#0000"},{"offset":0.6642,"color":"#0000"},{"offset":0.6642,"color":"#dda0dd"},
{"offset":0.6881,"color":"#dda0dd"},{"offset":0.6881,"color":"#0000"},{"offset":0.6974,"color":"#0000"},{"offset":0.6974,"color":"#dda0dd"},
{"offset":0.7213,"color":"#dda0dd"},{"offset":0.7213,"color":"#0000"},{"offset":0.7306,"color":"#0000"},{"offset":0.7306,"color":"#dda0dd"},
{"offset":0.7545,"color":"#dda0dd"},{"offset":0.7545,"color":"#0000"},{"offset":0.7638,"color":"#0000"},{"offset":0.7638,"color":"#dda0dd"},
{"offset":0.7877,"color":"#dda0dd"},{"offset":0.7877,"color":"#0000"},{"offset":0.7970,"color":"#0000"},{"offset":0.7970,"color":"#dda0dd"},
{"offset":0.8208,"color":"#dda0dd"},{"offset":0.8208,"color":"#0000"},{"offset":0.8301,"color":"#0000"},{"offset":0.8301,"color":"#dda0dd"},
{"offset":0.8540,"color":"#dda0dd"},{"offset":0.8540,"color":"#0000"},{"offset":0.8633,"color":"#0000"},{"offset":0.8633,"color":"#dda0dd"},
{"offset":0.8872,"color":"#dda0dd"},{"offset":0.8872,"color":"#0000"},{"offset":0.8965,"color":"#0000"},{"offset":0.8965,"color":"#dda0dd"},
{"offset":0.9204,"color":"#dda0dd"},{"offset":0.9204,"color":"#0000"},{"offset":0.9297,"color":"#0000"},{"offset":0.9297,"color":"#dda0dd"},
{"offset":0.9536,"color":"#dda0dd"},{"offset":0.9536,"color":"#0000"},{"offset":0.9628,"color":"#0000"},{"offset":0.9628,"color":"#dda0dd"},
{"offset":0.9867,"color":"#dda0dd"},{"offset":0.9867,"color":"#0000"},{"offset":0.9960,"color":"#0000"},{"offset":0.9960,"color":"#dda0dd"}
]}},
"encoding":{"y":{"datum":0.1496,"type":"quantitative","axis":{"title":"embedding size of prediction layer"}},"y2":{"datum":0.02}}},
{"mark":{"type":"bar","fill":"white"},
"encoding":{"y":{"field":"value","type":"quantitative","axis":{"title":"embedding size of prediction layer"}},"y2":{"datum":0.1496}}},
{"mark":{"type":"text","font":"DejaVu Sans","fontWeight":"bold","fontSize":29,"align":"left","baseline":"bottom","dx":-67.5,"color":"black"},
"encoding":{"y":{"field":"value","type":"quantitative","axis":{"title":"embedding size of prediction layer"}},"text":{"field":"value","type":"quantitative","format":".4f"}}}
]
}
